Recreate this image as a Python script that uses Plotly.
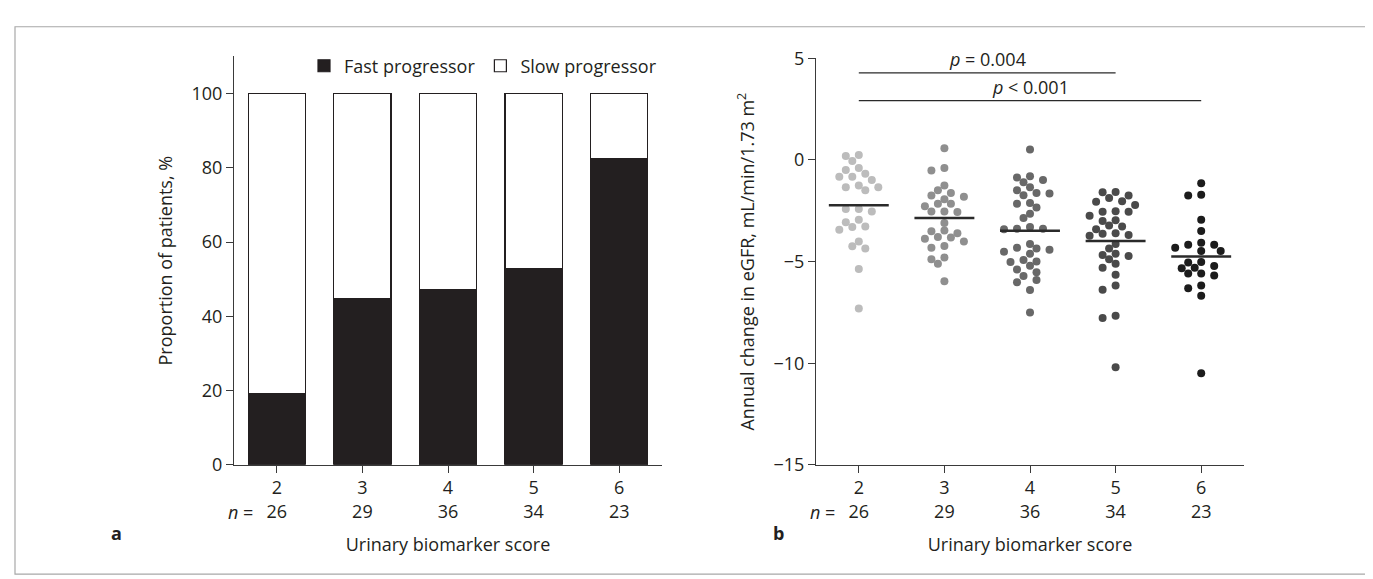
import plotly.graph_objects as go

W, H = 1373, 579

# ---------------- data ----------------
scores = [2, 3, 4, 5, 6]
n_patients = [26, 29, 36, 34, 23]
fast_pct = [19.2, 44.8, 47.2, 52.9, 82.6]
slow_pct = [80.8, 55.2, 52.8, 47.1, 17.4]

egfr_score2 = [0.24, 0.20, -0.05, -0.39, -0.49, -0.68, -0.83, -0.83, -0.99, -1.26, -1.34, -1.34, -1.49,
               -2.41, -2.41, -2.53, -2.94, -3.07, -3.27, -3.30, -3.43, -4.01, -4.25, -4.36, -5.36, -7.31]
egfr_score3 = [0.58, -0.39, -0.52, -1.26, -1.49, -1.62, -1.75, -1.81, -1.93, -2.15, -2.15, -2.28, -2.53,
               -2.53, -2.56, -3.10, -3.47, -3.51, -3.60, -3.79, -3.82, -3.88, -4.01, -4.23, -4.32, -4.80,
               -4.89, -5.11, -5.97]
egfr_score4 = [0.52, -0.80, -0.86, -0.99, -1.10, -1.34, -1.49, -1.62, -1.65, -1.73, -2.12, -2.15, -2.34,
               -2.64, -2.86, -3.30, -3.38, -3.38, -3.41, -4.14, -4.32, -4.36, -4.42, -4.51, -4.61, -4.92,
               -4.99, -5.02, -5.20, -5.39, -5.52, -5.71, -5.90, -6.02, -6.40, -7.50]
egfr_score5 = [-1.57, -1.59, -1.75, -1.87, -2.03, -2.06, -2.22, -2.52, -2.55, -2.55, -2.75, -2.97, -3.00,
               -3.22, -3.27, -3.41, -3.60, -3.63, -3.69, -3.73, -4.14, -4.36, -4.61, -4.67, -4.73, -4.89,
               -5.11, -5.30, -5.65, -6.18, -6.38, -7.66, -7.78, -10.2]
egfr_score6 = [-1.15, -1.71, -1.75, -2.94, -3.49, -4.07, -4.17, -4.17, -4.32, -4.48, -4.48, -5.02, -5.05,
               -5.22, -5.30, -5.33, -5.58, -5.58, -5.68, -6.18, -6.31, -6.68, -10.5]
egfr_groups = [egfr_score2, egfr_score3, egfr_score4, egfr_score5, egfr_score6]

comparisons = [(2, 5, "=", "0.004"), (2, 6, "<", "0.001")]

# ---------------- styling / layout ----------------
FONT = "Open Sans"
FS = 18
INK = "#231f20"
group_colors = ["#bcbcbc", "#8f8f8f", "#686868", "#4a4a4a", "#1c1c1c"]

xa_px = (226, 654)
xb_px = (808, 1236)
ya_px = (37, 463)
yb_px = (39, 463)
xrange_ = [1.5, 6.5]
yb_range = [-15, 5]

px_per_x = (xb_px[1] - xb_px[0]) / (xrange_[1] - xrange_[0])
px_per_y = (yb_px[1] - yb_px[0]) / (yb_range[1] - yb_range[0])


def fx(px):
    return px / W


def fy(py):
    return 1 - py / H


def swarm_offsets(values, step=6.5, diam=7.8):
    order = sorted(range(len(values)), key=lambda i: -values[i])
    placed = []
    offs = [0.0] * len(values)
    cands = [0.0] + [s * j * step for j in range(1, 12) for s in (-1, 1)]
    for i in order:
        yp = values[i] * px_per_y
        chosen = cands[-1]
        for c in cands:
            if all((c - a) ** 2 + (yp - b) ** 2 >= diam ** 2 for a, b in placed):
                chosen = c
                break
        placed.append((chosen, yp))
        offs[i] = chosen / px_per_x
    return offs


fig = go.Figure()

# Panel a: stacked bars
fig.add_trace(go.Bar(x=scores, y=fast_pct, name="Fast progressor", width=0.67,
                     marker=dict(color=INK, line=dict(color=INK, width=1.2)),
                     xaxis="x", yaxis="y"))
fig.add_trace(go.Bar(x=scores, y=slow_pct, name="Slow progressor", width=0.67,
                     marker=dict(color="white", line=dict(color=INK, width=1.2)),
                     xaxis="x", yaxis="y"))

# Panel b: dot plots with mean lines
for s, vals, col in zip(scores, egfr_groups, group_colors):
    offs = swarm_offsets(vals)
    fig.add_trace(go.Scatter(x=[s + o for o in offs], y=vals, mode="markers",
                             marker=dict(size=8, color=col, line=dict(width=0)),
                             showlegend=False, xaxis="x2", yaxis="y2"))
    m = sum(vals) / len(vals)
    fig.add_trace(go.Scatter(x=[s - 0.35, s + 0.35], y=[m, m], mode="lines",
                             line=dict(color="#2a2a2a", width=2.5),
                             showlegend=False, xaxis="x2", yaxis="y2"))

ticktext = [f"{s}<br>{n}" for s, n in zip(scores, n_patients)]
axis_common = dict(showline=True, linecolor="#3a3a3a", linewidth=1, ticks="outside", ticklen=7,
                   tickcolor="#3a3a3a", showgrid=False, zeroline=False,
                   tickfont=dict(family=FONT, size=FS, color=INK))

fig.update_layout(
    width=W, height=H, margin=dict(l=0, r=0, t=0, b=0),
    paper_bgcolor="white", plot_bgcolor="white",
    barmode="stack", bargap=0.3,
    font=dict(family=FONT, size=FS, color=INK),
    xaxis=dict(domain=[fx(xa_px[0]), fx(xa_px[1])], range=xrange_, tickvals=scores, ticktext=ticktext,
               title=dict(text="Urinary biomarker score", standoff=16,
                          font=dict(family=FONT, size=FS, color=INK)),
               anchor="y", **axis_common),
    yaxis=dict(domain=[fy(ya_px[1]), fy(ya_px[0])], range=[0, 110], tickvals=[0, 20, 40, 60, 80, 100],
               title=dict(text="Proportion of patients, %", standoff=14,
                          font=dict(family=FONT, size=FS, color=INK)),
               anchor="x", **axis_common),
    xaxis2=dict(domain=[fx(xb_px[0]), fx(xb_px[1])], range=xrange_, tickvals=scores, ticktext=ticktext,
                title=dict(text="Urinary biomarker score", standoff=16,
                           font=dict(family=FONT, size=FS, color=INK)),
                anchor="y2", **axis_common),
    yaxis2=dict(domain=[fy(yb_px[1]), fy(yb_px[0])], range=yb_range, tickvals=[-15, -10, -5, 0, 5],
                title=dict(text="Annual change in eGFR, mL/min/1.73 m<sup>2</sup>", standoff=14,
                           font=dict(family=FONT, size=FS, color=INK)),
                anchor="x2", **axis_common),
    legend=dict(orientation="h", x=fx(xa_px[1]), xanchor="right", y=fy(47), yanchor="middle",
                traceorder="normal", bgcolor="rgba(0,0,0,0)", font=dict(family=FONT, size=FS, color=INK),
                itemwidth=30),
)

annotations = []
for xref in ("x", "x2"):
    annotations.append(dict(xref=xref, yref="paper", x=2 - 22 / px_per_x, y=fy(512), text="<i>n</i> =",
                            showarrow=False, xanchor="right", yanchor="middle",
                            font=dict(family=FONT, size=FS, color=INK)))
annotations.append(dict(xref="paper", yref="paper", x=fx(101), y=fy(549), text="<b>a</b>", showarrow=False,
                        font=dict(family=FONT, size=FS, color=INK)))
annotations.append(dict(xref="paper", yref="paper", x=fx(770), y=fy(549), text="<b>b</b>", showarrow=False,
                        font=dict(family=FONT, size=FS, color=INK)))

shapes = [dict(type="rect", xref="paper", yref="paper", x0=fx(7), x1=fx(1366), y0=fy(577), y1=fy(6),
               line=dict(color="#a8a8a8", width=1.2), fillcolor="rgba(0,0,0,0)", layer="below")]
line_levels = [4.29, 2.92]
for (g0, g1, op, pv), lv in zip(comparisons, line_levels):
    shapes.append(dict(type="line", xref="x2", yref="y2", x0=g0, x1=g1, y0=lv, y1=lv,
                       line=dict(color="#2a2a2a", width=1.2)))
    annotations.append(dict(xref="x2", yref="y2", x=(g0 + g1) / 2, y=lv, text=f"<i>p</i> {op} {pv}",
                            showarrow=False, xanchor="center", yanchor="bottom", yshift=0,
                            font=dict(family=FONT, size=FS, color=INK)))

fig.update_layout(annotations=annotations, shapes=shapes)

fig.write_html("out.html")
